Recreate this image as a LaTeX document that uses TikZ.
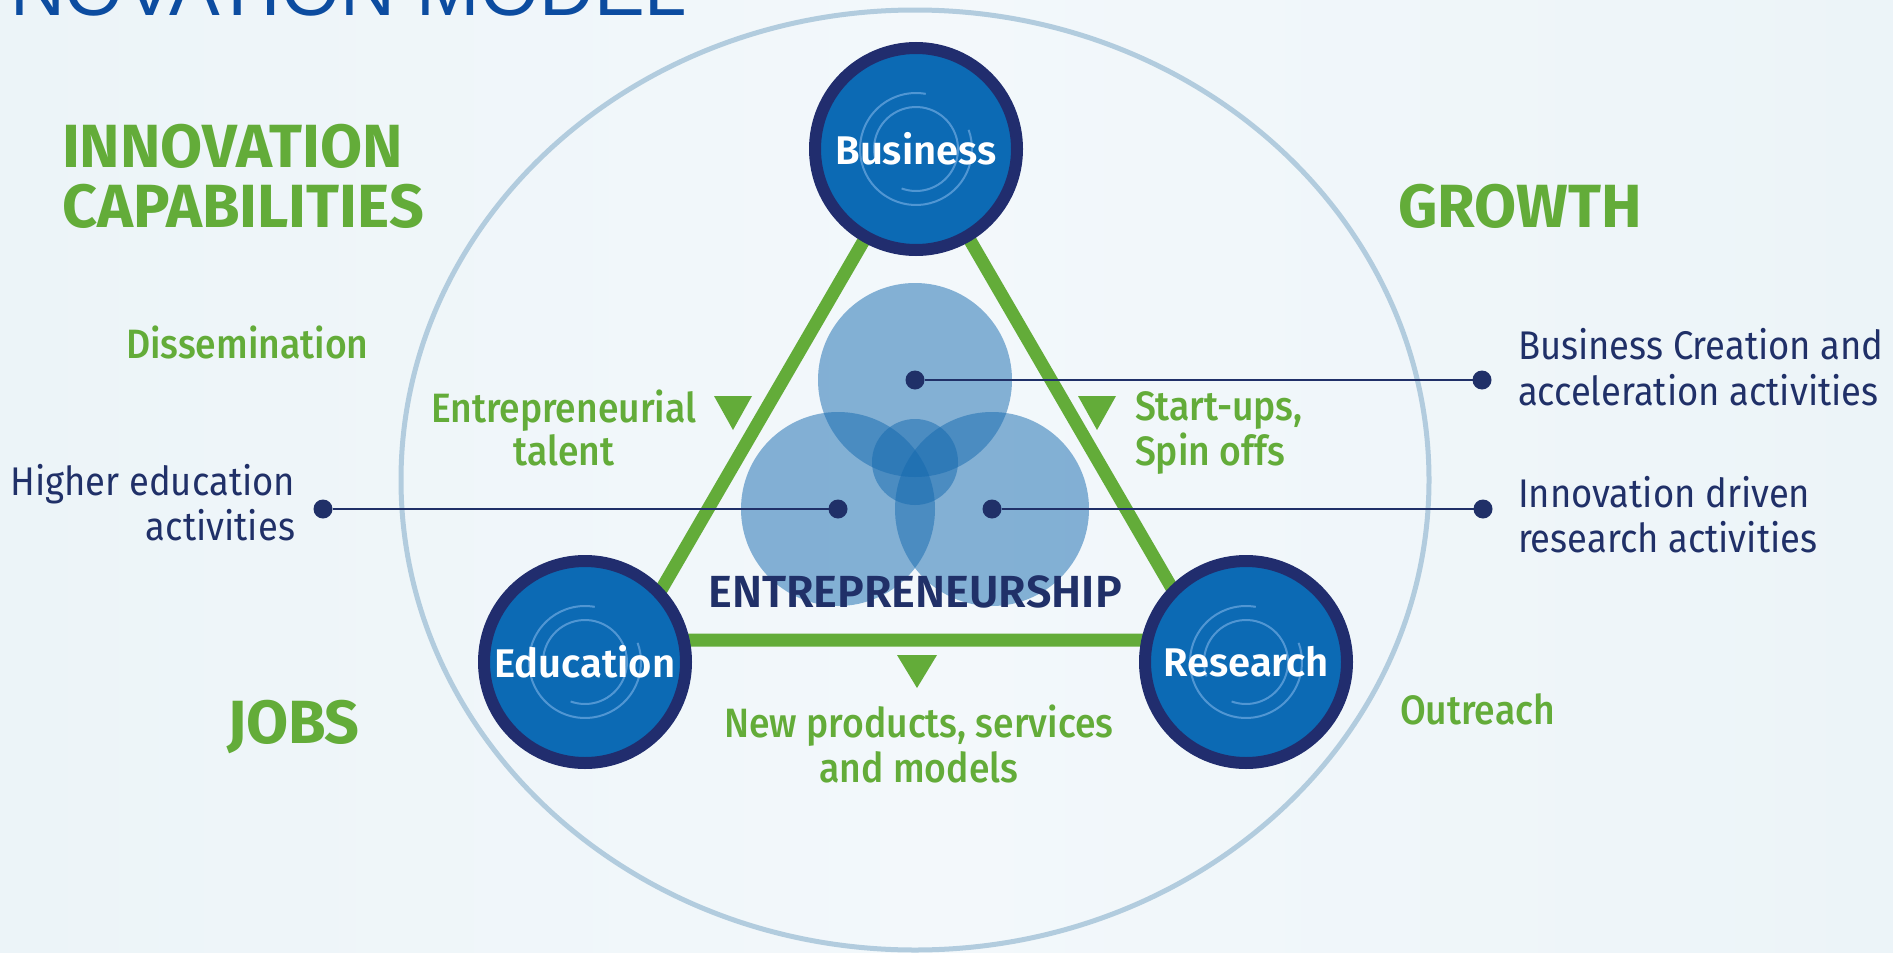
\documentclass[tikz,border=0pt]{standalone}
\usepackage{fontspec}
\setmainfont[FakeStretch=0.91]{Fira Sans}
\newfontfamily\semib{Fira Sans SemiBold}
\newfontfamily\boldf{Fira Sans Bold}
\newfontfamily\medf[FakeStretch=0.91]{Fira Sans Medium}
\newfontfamily\titlefont{Liberation Sans}
\definecolor{grn}{RGB}{99,172,57}
\definecolor{navy}{RGB}{32,48,104}
\definecolor{ringnavy}{RGB}{33,45,110}
\definecolor{discblue}{RGB}{12,106,180}
\definecolor{vennblue}{RGB}{20,105,175}
\definecolor{ellcol}{RGB}{178,204,222}
\definecolor{bgcol}{RGB}{243,248,251}
\definecolor{bgcolb}{RGB}{236,244,248}
\definecolor{titleblue}{RGB}{12,76,160}
\definecolor{arccol}{RGB}{110,170,225}
\newcommand\myfs[1]{\fontsize{#1}{#1}\selectfont}
\begin{document}
\begin{tikzpicture}[x=1pt,y=-1pt,
  every node/.style={inner sep=0pt, outer sep=0pt},
  txtg/.style={text=grn, font=\medf\myfs{41}},
  txtn/.style={text=navy, font=\myfs{40}},
  head/.style={text=grn, font=\boldf\myfs{61}},
  bigc/.style={circle, minimum size=202, fill=discblue, draw=ringnavy, line width=12},
  blabel/.style={text=white, font=\semib\myfs{40}},
  dot/.style={circle, fill=navy, minimum size=19},
  link/.style={draw=navy, line width=2},
  venn/.style={fill=vennblue, opacity=0.5},
  marker/.style={fill=grn},
  deco/.style={draw=arccol, line width=2, opacity=0.7}
]
\useasboundingbox (0,0) rectangle (1893,953);
\clip (0,0) rectangle (1893,953);
\shade[left color=bgcolb, right color=bgcolb, middle color=bgcol] (0,0) rectangle (1893,953);

% title (cut by the top edge)
\node[anchor=base west, text=titleblue, font=\titlefont\myfs{76}] (title) at (10,15) {NOVATION MODEL};

% big ellipse
\draw[ellcol, line width=5] (915,480) ellipse [x radius=514, y radius=470];

% green triangle
\coordinate (apex) at (917,149);
\coordinate (bl) at (632,640);
\coordinate (br) at (1202,640);
\draw[grn, line width=13, line join=miter] (apex) -- (bl) -- (br) -- cycle;

% markers
\fill[marker] (714,396) -- (752,396) -- (733,430) -- cycle;
\fill[marker] (1078,396) -- (1116,396) -- (1097,430) -- cycle;
\fill[marker] (897,655) -- (937,655) -- (917,688) -- cycle;

% venn
\fill[venn] (915,380) circle [radius=97];
\fill[venn] (838,509) circle [radius=97];
\fill[venn] (992,509) circle [radius=97];
\fill[venn] (915,462) circle [radius=43];

% dots and links
\node[dot] (dtop) at (915,380) {};
\node[dot] (dleft) at (838,509) {};
\node[dot] (dright) at (992,509) {};
\node[dot] (otl) at (323,509) {};
\node[dot] (otr1) at (1482,380) {};
\node[dot] (otr2) at (1483,509) {};
\draw[link] (dtop) -- (otr1);
\draw[link] (dleft) -- (otl);
\draw[link] (dright) -- (otr2);

% big circles
\node[bigc] (bus) at (916,149) {};
\node[bigc] (edu) at (585,662) {};
\node[bigc] (res) at (1246,662) {};
\foreach \c in {bus,edu,res}{
  \begin{scope}[shift={(\c.center)}]
    \draw[deco] (-20:56) arc (-20:280:56);
    \draw[deco] (160:42) arc (160:470:42);
  \end{scope}
}
\node[blabel] (busl) at (bus.center) {Business};
\node[blabel] (edul) at (edu.center) {Education};
\node[blabel] (resl) at (res.center) {Research};

% headings
\node[head, anchor=base west] (innov) at (62,167) {INNOVATION};
\node[head, anchor=base west] (capab) at (62,227) {CAPABILITIES};
\node[head, anchor=base west] (growth) at (1398,227) {GROWTH};
\node[head, anchor=base west] (jobs) at (227,743) {JOBS};

% green labels
\node[txtg, anchor=base west] (dissem) at (126,358) {Dissemination};
\node[txtg, anchor=base west] (outreach) at (1400,724) {Outreach};
\node[txtg, anchor=base west] (ent1) at (431,422) {Entrepreneurial};
\node[txtg, anchor=base] (ent2) at (564,465) {talent};
\node[txtg, anchor=base west] (st1) at (1135,420) {Start-ups,};
\node[txtg, anchor=base west] (st2) at (1135,465) {Spin offs};
\node[txtg, anchor=base] (np1) at (919,737) {New products, services};
\node[txtg, anchor=base] (np2) at (919,782) {and models};

% centre label
\node[anchor=base, text=navy, font=\semib\myfs{45}] (entre) at (915,607) {ENTREPRENEURSHIP};

% navy labels
\node[txtn, anchor=base east] (he1) at (295,495) {Higher education};
\node[txtn, anchor=base east] (he2) at (295,540) {activities};
\node[txtn, anchor=base west] (bc1) at (1518,359) {Business Creation and};
\node[txtn, anchor=base west] (bc2) at (1518,405) {acceleration activities};
\node[txtn, anchor=base west] (id1) at (1518,507) {Innovation driven};
\node[txtn, anchor=base west] (id2) at (1518,552) {research activities};
\end{tikzpicture}
\end{document}
